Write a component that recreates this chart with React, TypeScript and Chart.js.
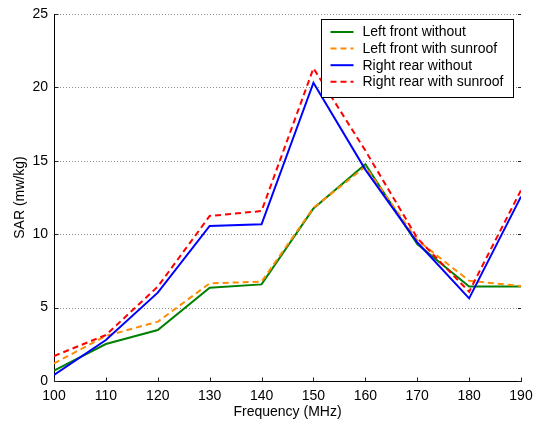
import React, { useEffect, useRef } from "react";
import { Chart, registerables } from "chart.js";

Chart.register(...registerables);

// Frequency sweep (MHz)
const frequencies = [100, 110, 120, 130, 140, 150, 160, 170, 180, 190];

// SAR values (mw/kg) per measurement position
const leftFrontWithout = [0.7, 2.52, 3.47, 6.36, 6.58, 11.76, 14.76, 9.33, 6.43, 6.43];
const leftFrontSunroof = [1.2, 3.07, 4.04, 6.65, 6.77, 11.8, 14.6, 9.6, 6.83, 6.47];
const rightRearWithout = [0.41, 2.79, 6.02, 10.56, 10.67, 20.32, 14.4, 9.45, 5.63, 12.56];
const rightRearSunroof = [1.7, 3.13, 6.43, 11.24, 11.58, 21.3, 15.7, 9.74, 6.08, 13.0];

const seriesLabels = [
  "Left front without",
  "Left front with sunroof",
  "Right rear without",
  "Right rear with sunroof",
];

const yTicks = [0, 5, 10, 15, 20, 25];

const FONT = "'Liberation Sans', Arial, sans-serif";
const FONT_SIZE = 14;

const toPoints = (vals: number[]) => frequencies.map((f, i) => ({ x: f, y: vals[i] }));

// Dotted horizontal grid, solid left/bottom axes and inward tick marks
const axesPlugin = {
  id: "matlabAxes",
  beforeDatasetsDraw(chart: any) {
    const { ctx, chartArea } = chart;
    const xs = chart.scales.x;
    const ys = chart.scales.y;
    const { left, right, top, bottom } = chartArea;
    ctx.save();
    ctx.lineWidth = 1;
    ctx.strokeStyle = "#8c8c8c";
    ctx.setLineDash([1, 2]);
    for (const v of yTicks) {
      if (v === 0) continue;
      const y = Math.round(ys.getPixelForValue(v)) + 0.5;
      ctx.beginPath();
      ctx.moveTo(left, y);
      ctx.lineTo(right, y);
      ctx.stroke();
    }
    ctx.setLineDash([]);
    ctx.strokeStyle = "#000";
    const lx = Math.round(left) + 0.5;
    const by = Math.round(bottom) + 0.5;
    ctx.beginPath();
    ctx.moveTo(lx, Math.round(top));
    ctx.lineTo(lx, by);
    ctx.lineTo(Math.round(right) + 1, by);
    ctx.stroke();
    ctx.strokeStyle = "#222";
    for (const v of yTicks) {
      const y = Math.round(ys.getPixelForValue(v)) + 0.5;
      ctx.beginPath();
      ctx.moveTo(lx, y);
      ctx.lineTo(lx + 4, y);
      ctx.moveTo(right, y);
      ctx.lineTo(right - 3, y);
      ctx.stroke();
    }
    for (const f of frequencies) {
      const x = Math.round(xs.getPixelForValue(f)) + 0.5;
      ctx.beginPath();
      ctx.moveTo(x, by);
      ctx.lineTo(x, by - 4);
      ctx.stroke();
    }
    ctx.restore();
  },
};

// Boxed legend in the upper right of the plot area
const legendPlugin = {
  id: "boxLegend",
  afterDatasetsDraw(chart: any) {
    const { ctx, chartArea } = chart;
    const datasets = chart.data.datasets;
    ctx.save();
    ctx.font = `${FONT_SIZE}px ${FONT}`;
    let maxW = 0;
    for (const ds of datasets) maxW = Math.max(maxW, ctx.measureText(ds.label).width);
    const rowH = 16.6;
    const w = Math.round(41 + maxW + 10);
    const h = 78;
    const x0 = Math.round(chartArea.right - 8 - w) + 0.5;
    const y0 = Math.round(chartArea.top + 5) + 0.5;
    ctx.fillStyle = "#fff";
    ctx.fillRect(x0, y0, w, h);
    ctx.strokeStyle = "#000";
    ctx.lineWidth = 1;
    ctx.setLineDash([]);
    ctx.strokeRect(x0, y0, w, h);
    datasets.forEach((ds: any, i: number) => {
      const cy = y0 + 12.5 + i * rowH;
      ctx.beginPath();
      ctx.strokeStyle = ds.borderColor;
      ctx.lineWidth = 2;
      ctx.setLineDash(ds.borderDash || []);
      ctx.moveTo(x0 + 9, cy);
      ctx.lineTo(x0 + 32, cy);
      ctx.stroke();
      ctx.setLineDash([]);
      ctx.fillStyle = "#000";
      ctx.textBaseline = "middle";
      ctx.textAlign = "left";
      ctx.fillText(ds.label, x0 + 41, cy + 0.5);
    });
    ctx.restore();
  },
};

export default function App() {
  const canvasRef = useRef<HTMLCanvasElement | null>(null);

  useEffect(() => {
    document.body.style.margin = "0";
    const canvas = canvasRef.current;
    if (!canvas) return;
    const base = { borderWidth: 2, pointRadius: 0, tension: 0, fill: false };
    const chart = new Chart(canvas, {
      type: "line",
      data: {
        datasets: [
          { ...base, label: seriesLabels[0], data: toPoints(leftFrontWithout), borderColor: "#008000", order: 4 },
          { ...base, label: seriesLabels[1], data: toPoints(leftFrontSunroof), borderColor: "#ff8c00", borderDash: [6, 4], order: 3 },
          { ...base, label: seriesLabels[2], data: toPoints(rightRearWithout), borderColor: "#0000ff", order: 2 },
          { ...base, label: seriesLabels[3], data: toPoints(rightRearSunroof), borderColor: "#ff0000", borderDash: [6, 4], order: 1 },
        ],
      },
      options: {
        responsive: false,
        animation: false,
        layout: { padding: { top: 14, right: 12, left: 0, bottom: 0 } },
        plugins: { legend: { display: false }, tooltip: { enabled: false } },
        scales: {
          x: {
            type: "linear",
            min: 100,
            max: 190,
            grid: { display: false, drawTicks: false },
            border: { display: false },
            ticks: {
              stepSize: 10,
              autoSkip: false,
              maxRotation: 0,
              padding: 7,
              color: "#000",
              font: { family: FONT, size: FONT_SIZE },
            },
            title: {
              display: true,
              text: "Frequency (MHz)",
              color: "#000",
              font: { family: FONT, size: FONT_SIZE },
              padding: { top: 0, bottom: 2 },
            },
            afterFit: (scale: any) => {
              scale.height = 42;
              scale.paddingLeft = 0;
              scale.paddingRight = 0;
            },
          },
          y: {
            min: 0,
            max: 25,
            grid: { display: false, drawTicks: false },
            border: { display: false },
            ticks: {
              stepSize: 5,
              padding: 6,
              color: "#000",
              font: { family: FONT, size: FONT_SIZE },
            },
            title: {
              display: true,
              text: "SAR (mw/kg)",
              color: "#000",
              font: { family: FONT, size: FONT_SIZE },
              padding: { top: 12, bottom: 0 },
            },
            afterFit: (scale: any) => {
              scale.width = 54;
              scale.paddingTop = 0;
              scale.paddingBottom = 0;
            },
          },
        },
      },
      plugins: [axesPlugin, legendPlugin],
    } as any);
    return () => chart.destroy();
  }, []);

  return (
    <div style={{ width: 533, height: 423 }}>
      <canvas ref={canvasRef} width={533} height={423} />
    </div>
  );
}
